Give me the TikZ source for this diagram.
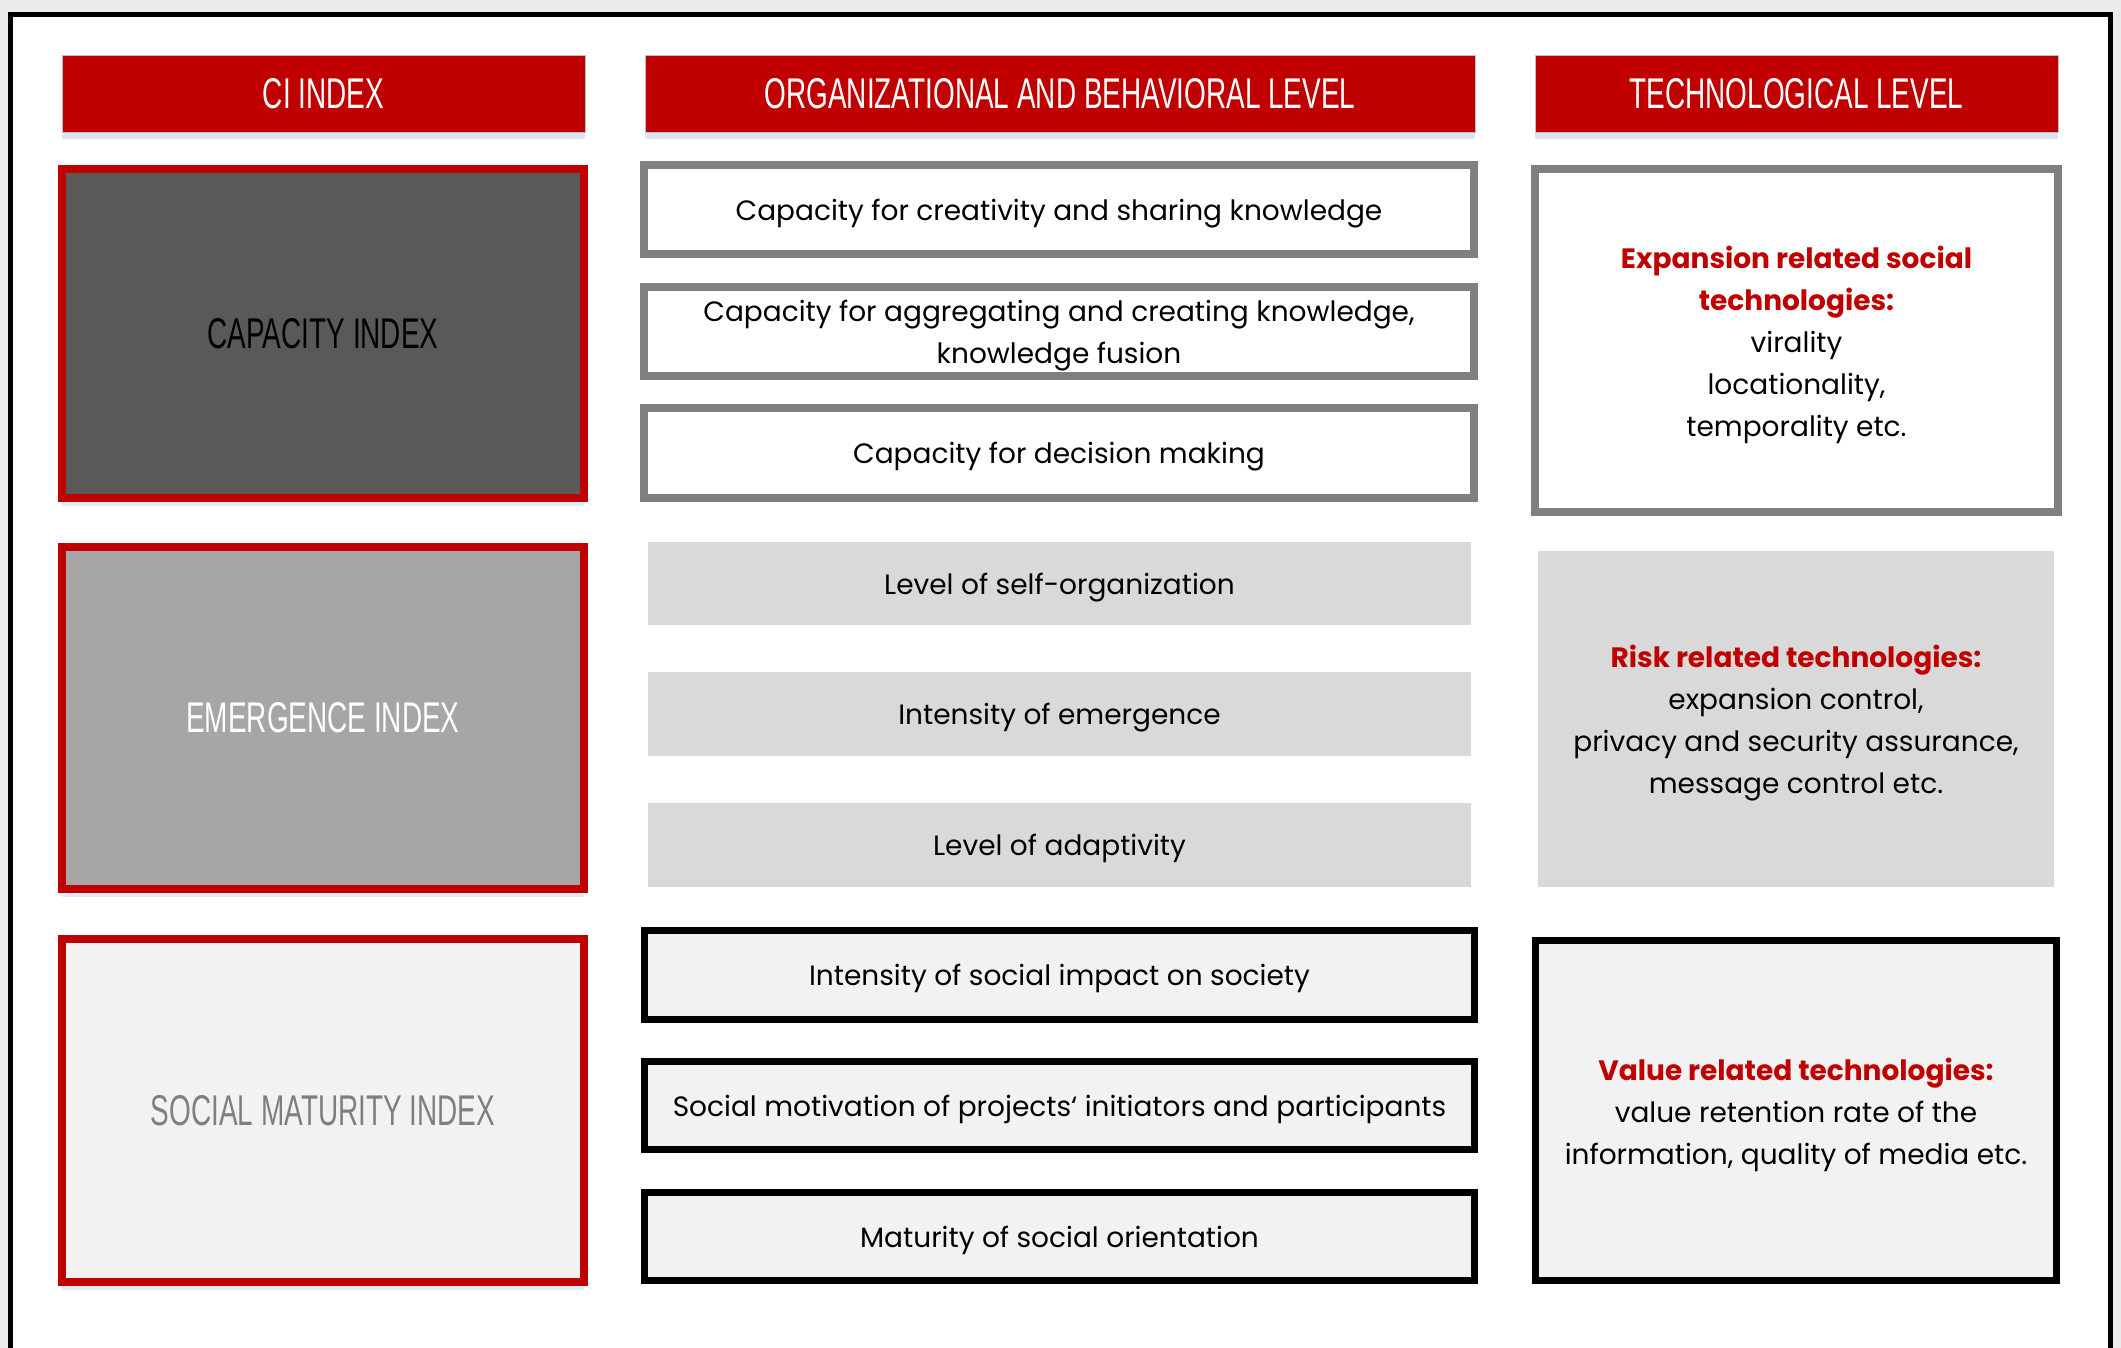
\documentclass[tikz,border=0pt]{standalone}
\usepackage{fontspec}
\setmainfont{Poppins}
\newfontfamily\hdrfont{Liberation Sans}[FakeStretch=0.65]
\usetikzlibrary{shadows}
\definecolor{hdrred}{HTML}{C00000}
\definecolor{hdrline}{HTML}{BFBFBF}
\definecolor{shadowblue}{HTML}{DCE6F2}
\definecolor{bggrey}{HTML}{EBEBEB}
\definecolor{midgrey}{HTML}{808080}
\definecolor{darkfill}{HTML}{595959}
\definecolor{emgfill}{HTML}{A6A6A6}
\definecolor{palefill}{HTML}{F2F2F2}
\definecolor{lightfill}{HTML}{D9D9D9}
\definecolor{soctext}{HTML}{7F7F7F}
\begin{document}
\begin{tikzpicture}[x=0.5pt,y=-0.5pt,
  hdrtext/.style={font=\hdrfont\fontsize{21.5}{24}\selectfont},
  bodyfont/.style={font=\fontsize{14}{21}\selectfont, align=center},
  bodytext/.style={bodyfont, execute at begin node={\rule{0pt}{14.5pt}}},
  hdr/.style={hdrtext, fill=hdrred, draw=hdrline, line width=0.5pt, text=white,
    minimum height=38.5pt, inner sep=0pt, outer sep=0pt,
    drop shadow={shadow xshift=0pt, shadow yshift=-3.5pt, fill=shadowblue, opacity=1}},
  idxbox/.style={hdrtext, draw=hdrred, line width=4pt, inner sep=0pt, outer sep=0pt,
    minimum width=261pt,
    drop shadow={shadow xshift=0pt, shadow yshift=-4pt, fill=shadowblue, opacity=0.8}},
  greybox/.style={bodytext, draw=midgrey, fill=white, line width=4pt, inner sep=0pt, outer sep=0pt,
    minimum width=415pt, minimum height=44.5pt},
  flatbox/.style={bodytext, fill=lightfill, inner sep=0pt, outer sep=0pt,
    minimum width=411.5pt, minimum height=42pt},
  blackbox/.style={bodytext, draw=black, fill=palefill, line width=3.5pt, inner sep=0pt, outer sep=0pt,
    minimum width=415pt, minimum height=44.5pt},
  multitext/.style={label={[bodyfont, inner sep=0pt, yshift=-2pt]center:{#1}}},
  redhead/.style={}
]
\useasboundingbox (0,0) rectangle (2121,1348);
\fill[bggrey] (0,0) rectangle (2121,1348);
\fill[white] (10,15) rectangle (2110,1348);
\draw[line width=2.5pt] (10,1348) -- (10,15) -- (2110,15) -- (2110,1348);

% headers
\node[hdr, minimum width=261.5pt] (h1) at (323.5,94) {CI INDEX};
\node[hdr, minimum width=415pt] (h2) at (1060,94) {ORGANIZATIONAL AND BEHAVIORAL LEVEL};
\node[hdr, minimum width=261.5pt] (h3) at (1796.5,94) {TECHNOLOGICAL LEVEL};

% index column
\node[idxbox, fill=darkfill, text=black, minimum height=164.5pt] (cap) at (323,333.5) {CAPACITY INDEX};
\node[idxbox, fill=emgfill, text=white, minimum height=171pt] (emg) at (323,718) {EMERGENCE INDEX};
\node[idxbox, fill=palefill, text=soctext, minimum height=171.5pt] (soc) at (323,1110.5) {SOCIAL MATURITY INDEX};

% organizational column
\node[greybox] (o1) at (1059,209.5) {Capacity for creativity and sharing knowledge};
\node[greybox, multitext={Capacity for aggregating and creating knowledge,\\knowledge fusion}] (o2) at (1059,331.5) {};
\node[greybox, minimum height=45pt] (o3) at (1059,453) {Capacity for decision making};
\node[flatbox, minimum height=41.5pt] (o4) at (1059.5,583.5) {Level of self-organization};
\node[flatbox] (o5) at (1059.5,714) {Intensity of emergence};
\node[flatbox] (o6) at (1059.5,845) {Level of adaptivity};
\node[blackbox] (o7) at (1059.5,975) {Intensity of social impact on society};
\node[blackbox, minimum height=44pt] (o8) at (1059.5,1105.5) {Social motivation of projects‘ initiators and participants};
\node[blackbox, minimum height=44pt] (o9) at (1059.5,1236.5) {Maturity of social orientation};

% technological column
\node[greybox, minimum width=261.5pt, minimum height=171.5pt,
  multitext={{\color{hdrred}\bfseries Expansion related social}\\{\color{hdrred}\bfseries technologies:}\\virality\\locationality,\\temporality etc.}]
  (t1) at (1796.5,340.5) {};
\node[flatbox, minimum width=258pt, minimum height=168pt,
  multitext={{\color{hdrred}\bfseries Risk related technologies:}\\expansion control,\\privacy and security assurance,\\message control etc.}]
  (t2) at (1796,719) {};
\node[blackbox, minimum width=260.5pt, minimum height=170pt,
  multitext={{\color{hdrred}\bfseries Value related technologies:}\\value retention rate of the\\information, quality of media etc.}]
  (t3) at (1796,1110.5) {};
\end{tikzpicture}
\end{document}
